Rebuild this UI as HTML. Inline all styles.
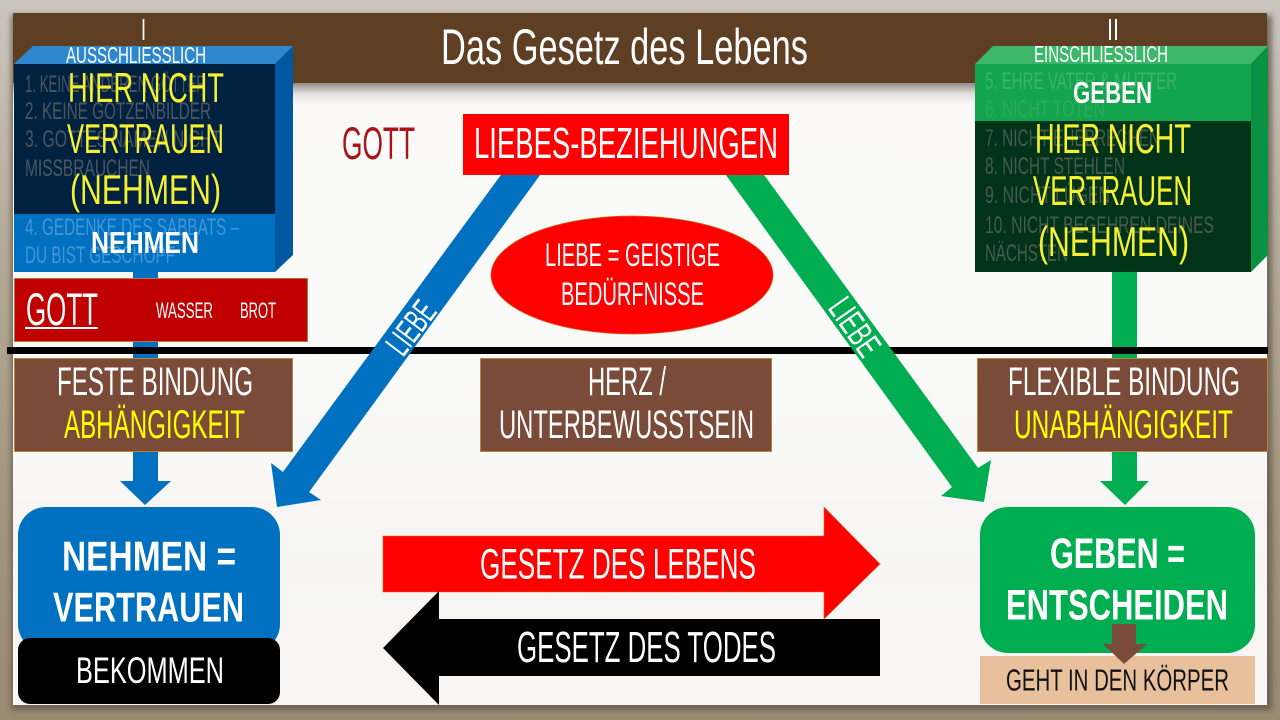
<!DOCTYPE html>
<html lang="de"><head><meta charset="utf-8"><title>Das Gesetz des Lebens</title>
<style>
html,body{margin:0;padding:0;width:1280px;height:720px;overflow:hidden;background:#b0a48f}
svg{display:block}
text{font-family:"Liberation Sans Narrow","Liberation Sans",sans-serif}
</style></head><body>
<svg xmlns="http://www.w3.org/2000/svg" width="1280" height="720" viewBox="0 0 1280 720">
<defs>
<linearGradient id="fr" x1="0" y1="0" x2="0" y2="1"><stop offset="0" stop-color="#cbc6be"/><stop offset=".35" stop-color="#b5aa99"/><stop offset=".7" stop-color="#a39680"/><stop offset="1" stop-color="#998a72"/></linearGradient>
<linearGradient id="sh" x1="0" y1="0" x2="0" y2="1"><stop offset="0" stop-color="#8f8a86"/><stop offset=".5" stop-color="#e4e3e1"/><stop offset="1" stop-color="#fafafa"/></linearGradient>
<linearGradient id="sl" x1="0" y1="0" x2="0" y2="1"><stop offset="0" stop-color="#fbfaf9"/><stop offset=".5" stop-color="#fafaf8"/><stop offset=".8" stop-color="#f6f5f3"/><stop offset="1" stop-color="#f8f7f5"/></linearGradient>
<filter id="bl" x="-5%" y="-5%" width="110%" height="110%"><feGaussianBlur stdDeviation="3"/></filter>
</defs>
<rect width="1280" height="720" fill="url(#fr)"/>
<rect x="11" y="15" width="1261" height="695" fill="#5d5346" opacity=".75" filter="url(#bl)"/>
<rect x="13" y="13" width="1254" height="692" fill="url(#sl)"/>
<rect x="13" y="83" width="1254" height="22" fill="url(#sh)"/>
<rect x="13" y="13" width="1254" height="70" fill="#5f3f24"/>
<text x="441" y="64" font-size="50" fill="#fdfdfd" textLength="367" lengthAdjust="spacingAndGlyphs">Das Gesetz des Lebens</text>
<text x="141" y="40" font-size="31" fill="#fff" textLength="5" lengthAdjust="spacingAndGlyphs">I</text>
<text x="1107" y="40" font-size="31" fill="#fff" textLength="12" lengthAdjust="spacingAndGlyphs">II</text>

<!-- vertical bars -->
<rect x="133" y="272" width="25" height="209" fill="#0070c0"/>
<polygon points="120,481 171,481 145,505" fill="#0070c0"/>
<rect x="1112" y="272" width="25" height="209" fill="#00ad50"/>
<polygon points="1100,481 1149,481 1125,505" fill="#00ad50"/>

<!-- blue box -->
<polygon points="14,64 33,46 293,46 275,64" fill="#2e88d0"/>
<polygon points="275,64 293,46 293,255 275,272" fill="#0059a0"/>
<rect x="14" y="64" width="261" height="150" fill="#00213f"/>
<rect x="14" y="214" width="261" height="58" fill="#0070c0"/>
<g font-size="24" fill="#4d5660">
<text x="25" y="92" textLength="181" lengthAdjust="spacingAndGlyphs">1. KEINE ANDEREN GÖTTER</text>
<text x="25" y="119" textLength="186" lengthAdjust="spacingAndGlyphs">2. KEINE GÖTZENBILDER</text>
<text x="25" y="147" textLength="196" lengthAdjust="spacingAndGlyphs">3. GOTTES NAMEN NICHT</text>
<text x="25" y="176" textLength="125" lengthAdjust="spacingAndGlyphs">MISSBRAUCHEN</text>
</g>
<g font-size="24" fill="#4596d6">
<text x="25" y="235" textLength="214" lengthAdjust="spacingAndGlyphs">4. GEDENKE DES SABBATS –</text>
<text x="25" y="263" textLength="150" lengthAdjust="spacingAndGlyphs">DU BIST GESCHÖPF</text>
</g>
<text x="66" y="63" font-size="23.5" fill="#fff" textLength="140" lengthAdjust="spacingAndGlyphs">AUSSCHLIESSLICH</text>
<g font-size="42" fill="#f5f030">
<text x="68" y="102" textLength="156" lengthAdjust="spacingAndGlyphs">HIER NICHT</text>
<text x="67" y="153" textLength="157" lengthAdjust="spacingAndGlyphs">VERTRAUEN</text>
<text x="70" y="204" textLength="151" lengthAdjust="spacingAndGlyphs">(NEHMEN)</text>
</g>
<text x="91" y="253" font-size="31" font-weight="700" fill="#fff" textLength="108" lengthAdjust="spacingAndGlyphs">NEHMEN</text>

<!-- green box -->
<polygon points="975,64 993,46 1268,46 1251,64" fill="#3db86b"/>
<polygon points="1251,64 1268,46 1268,255 1251,272" fill="#0a9244"/>
<rect x="975" y="64" width="276" height="57" fill="#12a54d"/>
<rect x="975" y="121" width="276" height="151" fill="#003318"/>
<text x="985" y="89" font-size="24" fill="#3cb46c" textLength="192" lengthAdjust="spacingAndGlyphs">5. EHRE VATER &amp; MUTTER</text>
<text x="985" y="117" font-size="24" fill="#2fa95e" textLength="120" lengthAdjust="spacingAndGlyphs">6. NICHT TÖTEN</text>
<g font-size="24" fill="#4a5a4f">
<text x="985" y="146" textLength="175" lengthAdjust="spacingAndGlyphs">7. NICHT EHEBRECHEN</text>
<text x="985" y="174" textLength="140" lengthAdjust="spacingAndGlyphs">8. NICHT STEHLEN</text>
<text x="985" y="203" textLength="125" lengthAdjust="spacingAndGlyphs">9. NICHT LÜGEN</text>
<text x="985" y="233" textLength="229" lengthAdjust="spacingAndGlyphs">10. NICHT BEGEHREN DEINES</text>
<text x="985" y="261" textLength="83" lengthAdjust="spacingAndGlyphs">NÄCHSTEN</text>
</g>
<text x="1034" y="62" font-size="23.5" fill="#fff" textLength="134" lengthAdjust="spacingAndGlyphs">EINSCHLIESSLICH</text>
<text x="1073" y="103" font-size="31" font-weight="700" fill="#fff" textLength="79" lengthAdjust="spacingAndGlyphs">GEBEN</text>
<g font-size="42" fill="#f5f030">
<text x="1035" y="153" textLength="156" lengthAdjust="spacingAndGlyphs">HIER NICHT</text>
<text x="1033" y="205" textLength="159" lengthAdjust="spacingAndGlyphs">VERTRAUEN</text>
<text x="1038" y="256" textLength="151" lengthAdjust="spacingAndGlyphs">(NEHMEN)</text>
</g>

<!-- red GOTT box -->
<rect x="14.5" y="278.5" width="293" height="63" fill="#c00000" stroke="#b5763f"/>
<text x="26" y="325" font-size="45" fill="#fff" textLength="72" lengthAdjust="spacingAndGlyphs">GOTT</text>
<rect x="25" y="327" width="73" height="2" fill="#fff"/>
<text x="156" y="318" font-size="22" fill="#fff" textLength="57" lengthAdjust="spacingAndGlyphs">WASSER</text>
<text x="240" y="318" font-size="22" fill="#fff" textLength="36" lengthAdjust="spacingAndGlyphs">BROT</text>

<!-- diagonals -->
<polygon points="501,175 540,175 309,492 321,500 277,507 271,463 283,472" fill="#0070c0"/>
<polygon points="726,175 764,175 978,468 991,460 984,502 941,496 952,487" fill="#00ad50"/>

<!-- black line -->
<rect x="7" y="347" width="1261" height="7" fill="#000"/>
<polygon points="501,175 540,175 309,492 283,472" fill="#0070c0"/>
<polygon points="726,175 764,175 978,468 952,487" fill="#00ad50"/>
<text transform="translate(403,358) rotate(-52.7)" font-size="35" fill="#fff" textLength="58" lengthAdjust="spacingAndGlyphs">LIEBE</text>
<text transform="translate(827,308) rotate(55)" font-size="35" fill="#fff" textLength="63" lengthAdjust="spacingAndGlyphs">LIEBE</text>

<!-- top centre -->
<text x="342" y="159" font-size="45" fill="#a81418" textLength="73" lengthAdjust="spacingAndGlyphs">GOTT</text>
<rect x="463" y="114" width="326" height="61" fill="#ff0000"/>
<text x="474" y="158" font-size="44" fill="#fff" textLength="304" lengthAdjust="spacingAndGlyphs">LIEBES-BEZIEHUNGEN</text>
<ellipse cx="632" cy="275" rx="141" ry="59" fill="#ff0000" stroke="#d2691e" stroke-width=".8"/>
<text x="545" y="266" font-size="32" fill="#fff" textLength="175" lengthAdjust="spacingAndGlyphs">LIEBE = GEISTIGE</text>
<text x="561" y="305" font-size="32" fill="#fff" textLength="143" lengthAdjust="spacingAndGlyphs">BEDÜRFNISSE</text>

<!-- brown boxes -->
<g fill="#7b4b3a" stroke="#b5833c">
<rect x="14.5" y="358.5" width="278" height="93"/>
<rect x="480.5" y="358.5" width="291" height="93"/>
<rect x="977.5" y="358.5" width="290" height="93"/>
</g>
<g font-size="40" fill="#fff">
<text x="57" y="395" textLength="196" lengthAdjust="spacingAndGlyphs">FESTE BINDUNG</text>
<text x="588" y="395" textLength="78" lengthAdjust="spacingAndGlyphs">HERZ /</text>
<text x="499" y="438" textLength="255" lengthAdjust="spacingAndGlyphs">UNTERBEWUSSTSEIN</text>
<text x="1008" y="395" textLength="232" lengthAdjust="spacingAndGlyphs">FLEXIBLE BINDUNG</text>
</g>
<g font-size="40" fill="#ffff00">
<text x="64" y="438" textLength="181" lengthAdjust="spacingAndGlyphs">ABHÄNGIGKEIT</text>
<text x="1014" y="438" textLength="219" lengthAdjust="spacingAndGlyphs">UNABHÄNGIGKEIT</text>
</g>

<!-- bottom left -->
<rect x="18" y="507" width="262" height="145" rx="28" fill="#0070c0"/>
<text x="62" y="570.5" font-size="42" font-weight="700" fill="#fff" textLength="174" lengthAdjust="spacingAndGlyphs">NEHMEN =</text>
<text x="53" y="621.5" font-size="42" font-weight="700" fill="#fff" textLength="191" lengthAdjust="spacingAndGlyphs">VERTRAUEN</text>
<rect x="18" y="638" width="262" height="66" rx="12" fill="#000"/>
<text x="76" y="683" font-size="37" fill="#fff" textLength="148" lengthAdjust="spacingAndGlyphs">BEKOMMEN</text>

<!-- bottom right -->
<rect x="980" y="507" width="275" height="146" rx="28" fill="#00ad50"/>
<text x="1050" y="568" font-size="43" font-weight="700" fill="#fff" textLength="135" lengthAdjust="spacingAndGlyphs">GEBEN =</text>
<text x="1006" y="619.5" font-size="43" font-weight="700" fill="#fff" textLength="222" lengthAdjust="spacingAndGlyphs">ENTSCHEIDEN</text>
<rect x="980" y="656" width="275" height="48" fill="#e8c09c"/>
<text x="1006" y="690.5" font-size="31" fill="#111" textLength="223" lengthAdjust="spacingAndGlyphs">GEHT IN DEN KÖRPER</text>
<rect x="1112" y="624" width="24" height="20" fill="#7b4b3a"/>
<polygon points="1103,644 1147,644 1124,664" fill="#7b4b3a"/>

<!-- centre arrows -->
<polygon points="383,536 824,536 824,507 880,564 824,619 824,592 383,592" fill="#ff0000" stroke="#d2691e" stroke-width=".6"/>
<polygon points="880,619 439,619 439,591 383,648 439,705 439,676 880,676" fill="#000"/>
<text x="480" y="578.5" font-size="43" fill="#fff" textLength="276" lengthAdjust="spacingAndGlyphs">GESETZ DES LEBENS</text>
<text x="517" y="662" font-size="44" fill="#fff" textLength="259" lengthAdjust="spacingAndGlyphs">GESETZ DES TODES</text>
</svg>
</body></html>
